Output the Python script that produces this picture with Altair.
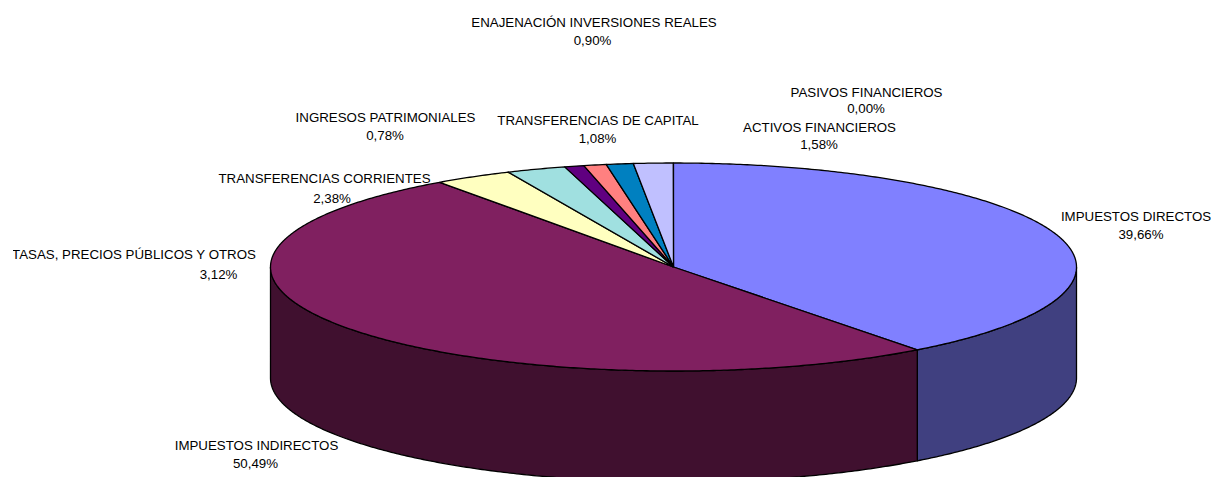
import numpy as np
import pandas as pd
import altair as alt

names = ["IMPUESTOS DIRECTOS", "IMPUESTOS INDIRECTOS", "TASAS, PRECIOS PÚBLICOS Y OTROS",
         "TRANSFERENCIAS CORRIENTES", "INGRESOS PATRIMONIALES", "ENAJENACIÓN INVERSIONES REALES",
         "TRANSFERENCIAS DE CAPITAL", "ACTIVOS FINANCIEROS", "PASIVOS FINANCIEROS"]
shares = [39.66, 50.49, 3.12, 2.38, 0.78, 0.90, 1.08, 1.58, 0.00]
pct_text = ["39,66%", "50,49%", "3,12%", "2,38%", "0,78%", "0,90%", "1,08%", "1,58%", "0,00%"]
top_colors = ["#8080FF", "#802060", "#FFFFC0", "#A0E0E0", "#600080", "#FF8080", "#0080C0", "#C0C0FF", "#FFFFFF"]
side_colors = ["#404080", "#40102F", "#808060", "#507070", "#300040", "#804040", "#004060", "#606080", "#808080"]
name_x = [1136, 256.5, 134, 324.5, 385.5, 594, 598, 819.5, 866.5]
pct_x = [1141, 255.5, 218.5, 332, 385, 592.5, 597.5, 819, 866]
name_y = [216, 445, 254, 178, 117, 22, 120, 127, 91.5]
pct_y = [234, 463, 274, 198, 135, 40, 137.5, 144, 107.5]

CX, CY, RX, RY, DEPTH = 673.5, 267, 403, 104, 111
LEFT, TOP, RIGHT, BOTTOM = 13, 8, 1211, 477


def rim(deg):
    t = np.radians(deg)
    return CX + RX * np.sin(t), CY - RY * np.cos(t)


def arc(a, b):
    n = max(2, int(abs(b - a) * 2) + 1)
    return np.linspace(a, b, n)


tops, walls = [], []
start = 0.0
for idx, (name, share) in enumerate(zip(names, shares)):
    end = start + share * 3.6
    if share > 0:
        pts = [(CX, CY)] + [rim(d) for d in arc(start, end)] + [(CX, CY)]
        for i, (x, y) in enumerate(pts):
            tops.append({"slice": name, "i": i, "x": x, "y": y})
        a, b = max(start, 90), min(end, 270)
        if b > a:
            front = [rim(d) for d in arc(a, b)]
            poly = front + [(x, y + DEPTH) for x, y in reversed(front)] + [front[0]]
            for i, (x, y) in enumerate(poly):
                walls.append({"slice": name, "i": i, "x": x, "y": y})
    start = end

x_scale = alt.Scale(domain=[LEFT, RIGHT], nice=False, zero=False)
y_scale = alt.Scale(domain=[BOTTOM, TOP], nice=False, zero=False)
X = alt.X("x:Q", scale=x_scale, axis=None)
Y = alt.Y("y:Q", scale=y_scale, axis=None)


def polys(rows, colors):
    return alt.Chart(pd.DataFrame(rows)).mark_line(
        stroke="black", strokeWidth=1.3, clip=True, strokeJoin="round", interpolate="linear"
    ).encode(
        x=X, y=Y, order="i:Q",
        fill=alt.Fill("slice:N", scale=alt.Scale(domain=names, range=colors), legend=None),
    )


labels = pd.DataFrame({"x": name_x, "x2": pct_x, "y1": name_y, "y2": pct_y, "name": names, "pct": pct_text})
FONT = dict(font="Liberation Sans", fontSize=13.3, color="#000000", align="center", baseline="middle", clip=True, dy=1)
name_text = alt.Chart(labels).mark_text(**FONT).encode(x=X, y=alt.Y("y1:Q", scale=y_scale, axis=None), text="name:N")
pct_layer = alt.Chart(labels).mark_text(**FONT).encode(
    x=alt.X("x2:Q", scale=x_scale, axis=None), y=alt.Y("y2:Q", scale=y_scale, axis=None), text="pct:N")

chart = alt.layer(polys(walls, side_colors), polys(tops, top_colors), name_text, pct_layer).properties(
    width=RIGHT - LEFT, height=BOTTOM - TOP,
    padding={"left": LEFT - 8, "top": 0, "right": 0, "bottom": 0},
    autosize=alt.AutoSizeParams(type="none"),
).configure_view(stroke=None).resolve_scale(fill="independent")

chart.save("out.html", embed_options={"renderer": "svg", "actions": False})
